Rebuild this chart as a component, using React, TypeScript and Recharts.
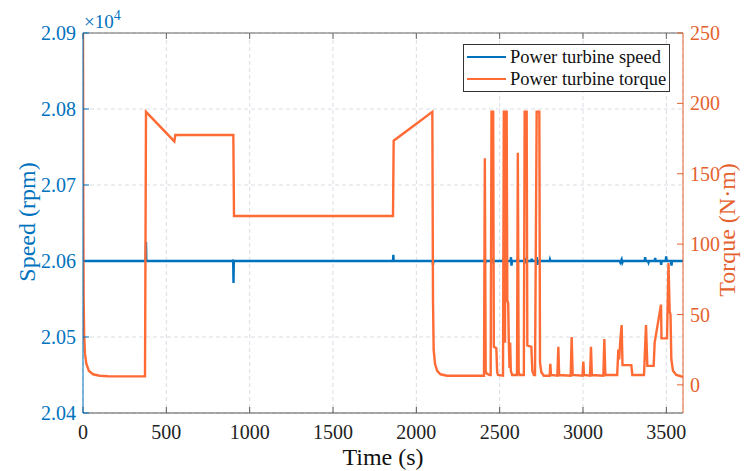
import { LineChart, Line, XAxis, YAxis, CartesianGrid } from "recharts";

const FONT = '"Liberation Serif", "Times New Roman", serif';
const BLUE = "#0072BD";
const ORANGE = "#FF6B35";
const ORANGE_AXIS = "#E4622E";

// ---- axis ticks ----
const timeTicks = [0, 500, 1000, 1500, 2000, 2500, 3000, 3500];
const speedTicks = [20400, 20500, 20600, 20700, 20800, 20900];
const torqueTicks = [0, 50, 100, 150, 200, 250];

// ---- power turbine speed (rpm) ----
const speedTime = [
  0, 376, 378, 380, 900, 901, 903, 905, 1860, 1862, 1864, 2098, 2100, 2102,
  2410, 2412, 2414, 2416, 2450, 2452, 2455, 2458, 2522, 2524, 2527, 2530,
  2566, 2568, 2571, 2574, 2606, 2608, 2611, 2650, 2652, 2655, 2658, 2690,
  2692, 2695, 2720, 2722, 2726, 2730, 2800, 2802, 2805, 3220, 3224, 3232,
  3236, 3240, 3370, 3373, 3376, 3390, 3393, 3396, 3430, 3433, 3436, 3466,
  3469, 3472, 3496, 3499, 3502, 3528, 3531, 3534, 3600,
];
const speedRpm = [
  20600, 20600, 20625, 20600, 20600, 20602, 20571, 20600, 20600, 20608, 20600,
  20600, 20595, 20600, 20600, 20603, 20597, 20600, 20600, 20604, 20597, 20600,
  20600, 20604, 20596, 20600, 20600, 20605, 20594, 20600, 20600, 20603, 20600,
  20600, 20604, 20597, 20600, 20600, 20603, 20600, 20600, 20605, 20595, 20600,
  20600, 20602, 20600, 20600, 20598, 20602, 20598, 20600, 20600, 20605, 20600,
  20600, 20598, 20600, 20600, 20604, 20600, 20600, 20595, 20600, 20600, 20606,
  20600, 20600, 20594, 20600, 20600,
];

// ---- power turbine torque (N·m) ----
const torqueTime = [
  0, 2, 4, 7, 12, 20, 35, 60, 100, 150, 372, 378, 548, 554, 902, 906, 1860,
  1864, 2096, 2100, 2104, 2112, 2125, 2145, 2185, 2406, 2411, 2416, 2422,
  2440, 2446, 2451, 2461, 2465, 2480, 2485, 2490, 2520, 2525, 2530, 2532,
  2535, 2542, 2546, 2551, 2555, 2559, 2563, 2567, 2575, 2604, 2609, 2614,
  2620, 2645, 2650, 2662, 2666, 2690, 2696, 2705, 2712, 2722, 2738, 2742,
  2750, 2765, 2800, 2804, 2808, 2846, 2852, 2857, 2926, 2932, 2938, 2997,
  3002, 3006, 3042, 3048, 3053, 3122, 3128, 3134, 3205, 3212, 3217, 3224,
  3232, 3237, 3290, 3296, 3366, 3378, 3386, 3424, 3430, 3468, 3471, 3504,
  3513, 3520, 3525, 3530, 3540, 3560, 3582, 3600,
];
const torqueNm = [
  250, 120, 60, 35, 22, 15, 10, 7.5, 6.5, 6.1, 6, 194, 173, 177.5, 177.5, 120,
  120, 173.5, 194, 60, 25, 15, 10, 7.5, 6.5, 6.5, 161, 10, 8, 7, 7, 194, 194,
  27, 26, 9, 7, 6.5, 194, 194, 30, 194, 194, 60, 58, 30, 12, 30, 10, 7, 7, 165,
  9, 7, 7, 194, 194, 28, 27, 10, 7, 7, 194, 194, 16, 9, 6.5, 6.5, 15, 7, 6.5,
  27, 7, 6.5, 34, 7, 6.5, 16.5, 7, 6.5, 27, 7, 6.5, 32.5, 7, 7, 25, 18, 32,
  42.5, 14, 14, 7, 7, 42.5, 13.5, 13.5, 30, 57, 33, 33, 86.5, 52, 50, 18, 10,
  7, 6.3, 5.5,
];

const speedData = speedTime.map((t, i) => ({ t, v: speedRpm[i] }));
const torqueData = torqueTime.map((t, i) => ({ t, v: torqueNm[i] }));

const legendItems = [
  { label: "Power turbine speed", color: BLUE },
  { label: "Power turbine torque", color: ORANGE },
];

const tickStyle = (fill: string) => ({
  fill,
  fontSize: 20,
  fontFamily: FONT,
  style: { fontFamily: FONT },
});

export default function App() {
  return (
    <div
      style={{
        position: "absolute",
        left: 0,
        top: 0,
        width: 749,
        height: 471,
        background: "#fff",
        fontFamily: FONT,
      }}
    >
      <style>{`.recharts-text, .recharts-cartesian-axis-tick-value { font-family: "Liberation Serif", "Times New Roman", serif !important; }`}</style>
      <LineChart
        width={749}
        height={471}
        margin={{ top: 32, right: 16, bottom: 18, left: 23 }}
        style={{ fontFamily: FONT }}
      >
        <CartesianGrid
          xAxisId="b"
          yAxisId="left"
          stroke="#d9dee4"
          strokeDasharray="4 3"
        />
        <XAxis
          xAxisId="b"
          type="number"
          dataKey="t"
          domain={[0, 3600]}
          ticks={timeTicks}
          height={40}
          stroke="#555"
          tickSize={-6}
          tickMargin={18}
          tick={tickStyle("#222")}
          allowDataOverflow
        />
        <XAxis
          xAxisId="t"
          orientation="top"
          type="number"
          dataKey="t"
          domain={[0, 3600]}
          ticks={timeTicks}
          height={1}
          stroke="#666"
          tickSize={-6}
          tickFormatter={() => ""}
          allowDataOverflow
        />
        <YAxis
          yAxisId="left"
          type="number"
          domain={[20400, 20900]}
          ticks={speedTicks}
          width={60}
          stroke={BLUE}
          tickSize={-6}
          tickMargin={13}
          tickFormatter={(v: number) => (v / 10000).toFixed(2)}
          tick={tickStyle(BLUE)}
          allowDataOverflow
        />
        <YAxis
          yAxisId="right"
          orientation="right"
          type="number"
          domain={[-20, 250]}
          ticks={torqueTicks}
          width={50}
          stroke={ORANGE_AXIS}
          tickSize={-6}
          tickMargin={13}
          tick={tickStyle(ORANGE_AXIS)}
          allowDataOverflow
        />
        <Line
          xAxisId="b"
          yAxisId="left"
          data={speedData}
          dataKey="v"
          type="linear"
          stroke={BLUE}
          strokeWidth={2.4}
          dot={false}
          isAnimationActive={false}
        />
        <Line
          xAxisId="b"
          yAxisId="right"
          data={torqueData}
          dataKey="v"
          type="linear"
          stroke={ORANGE}
          strokeWidth={2.4}
          dot={false}
          isAnimationActive={false}
        />
      </LineChart>

      {/* x10^4 exponent label */}
      <div
        style={{
          position: "absolute",
          left: 84,
          top: 12,
          color: BLUE,
          fontSize: 19,
          lineHeight: "20px",
          whiteSpace: "nowrap",
        }}
      >
        <span style={{ fontSize: 19 }}>×10</span>
        <span
          style={{
            fontSize: 14,
            position: "relative",
            top: -8,
          }}
        >
          4
        </span>
      </div>

      {/* axis titles */}
      <div
        style={{
          position: "absolute",
          left: 283,
          width: 200,
          top: 443,
          textAlign: "center",
          fontSize: 24,
          lineHeight: "28px",
          color: "#111",
        }}
      >
        Time (s)
      </div>
      <div
        style={{
          position: "absolute",
          left: 27 - 100,
          top: 222 - 14,
          width: 200,
          textAlign: "center",
          fontSize: 24,
          lineHeight: "28px",
          color: BLUE,
          transform: "rotate(-90deg)",
        }}
      >
        Speed (rpm)
      </div>
      <div
        style={{
          position: "absolute",
          left: 727 - 100,
          top: 230 - 14,
          width: 200,
          textAlign: "center",
          fontSize: 24,
          lineHeight: "28px",
          color: ORANGE_AXIS,
          transform: "rotate(-90deg)",
        }}
      >
        Torque (N·m)
      </div>

      {/* legend */}
      <div
        style={{
          position: "absolute",
          left: 463,
          top: 44,
          width: 205,
          height: 46,
          border: "1px solid #333",
          background: "#fff",
          boxSizing: "content-box",
        }}
      >
        {legendItems.map((item, i) => (
          <div
            key={item.label}
            style={{
              position: "absolute",
              left: 3,
              top: 1 + i * 22,
              height: 22,
              display: "flex",
              alignItems: "center",
              fontSize: 18.5,
              whiteSpace: "nowrap",
              color: "#111",
            }}
          >
            <span
              style={{
                display: "inline-block",
                width: 39,
                height: 2.5,
                background: item.color,
                marginRight: 4,
              }}
            />
            {item.label}
          </div>
        ))}
      </div>
    </div>
  );
}
